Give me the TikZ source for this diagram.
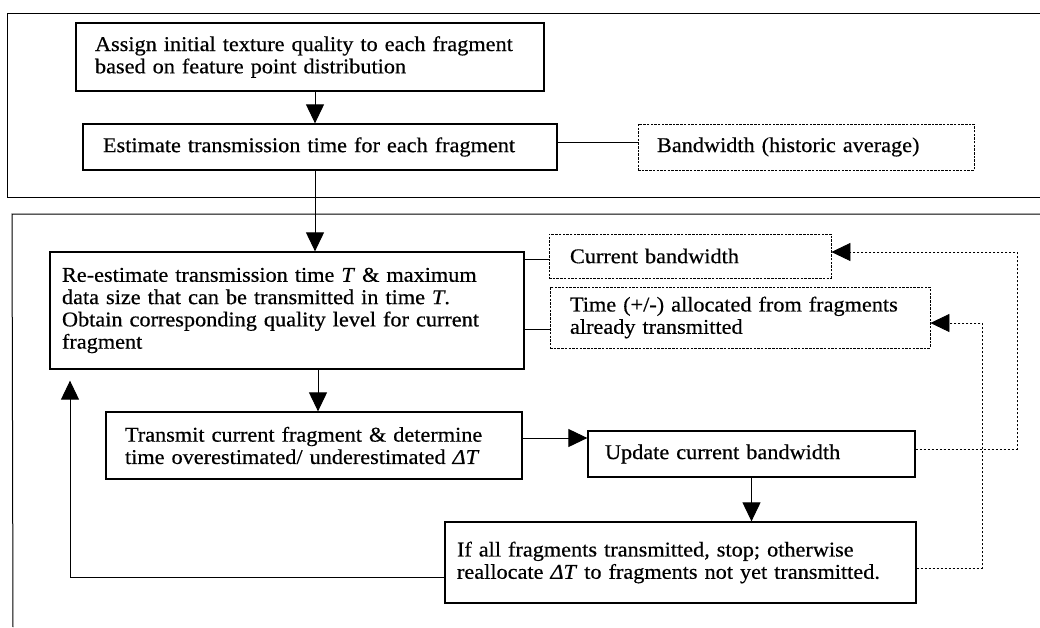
\documentclass[tikz,border=0pt]{standalone}
\usepackage{fontspec}
\setmainfont[FakeStretch=1.06,FakeBold=0.5]{Liberation Serif}
\usetikzlibrary{arrows.meta}
\begin{document}
\begin{tikzpicture}[x=1pt,y=-1pt,
  every node/.style={font=\fontsize{21}{22.3}\selectfont},
  box/.style={draw, line width=1.3pt, align=left, inner ysep=0pt},
  dbox/.style={draw, line width=0.8pt, dash pattern=on 2.5pt off 1.2pt, align=left, inner ysep=0pt},
  frame/.style={line width=1pt},
  link/.style={line width=1pt},
  dlink/.style={line width=0.8pt, dash pattern=on 2.5pt off 1.5pt},
  arr/.style={-{Triangle[length=19pt,width=18pt]}}
]
\useasboundingbox (0,0) rectangle (1040,627);
% frames
\draw[frame] (1040,13) -- (7,13) -- (7,197) -- (1040,197);
\draw[frame] (1040,214) -- (12,214) -- (13,627);
% nodes
\node[box, minimum width=468pt, minimum height=68pt, text width=430pt, inner xsep=19pt] (A) at (310,57)
  {Assign initial texture quality to each fragment\\based on feature point distribution};
\node[box, minimum width=474pt, minimum height=46pt, text width=434pt, inner xsep=20pt] (B) at (320,147)
  {Estimate transmission time for each fragment};
\node[dbox, minimum width=336pt, minimum height=46pt, text width=298pt, inner xsep=19pt] (BW) at (806,147)
  {Bandwidth (historic average)};
\node[box, minimum width=474pt, minimum height=117pt, text width=450pt, inner xsep=12pt] (C) at (287,310.5)
  {Re-estimate transmission time \textit{T} \& maximum\\data size that can be transmitted in time \textit{T}.\\Obtain corresponding quality level for current\\fragment};
\node[dbox, minimum width=282pt, minimum height=44pt, text width=240pt, inner xsep=21pt] (CB) at (690,256)
  {Current bandwidth};
\node[dbox, minimum width=380pt, minimum height=61pt, text width=340pt, inner xsep=20pt] (TM) at (740,317.5)
  {Time (+/-) allocated from fragments\\already transmitted};
\node[box, minimum width=416pt, minimum height=67pt, text width=378pt, inner xsep=19pt] (D) at (314,445.5)
  {Transmit current fragment \& determine\\time overestimated/ underestimated \textit{ΔT}};
\node[box, minimum width=327pt, minimum height=46pt, text width=293pt, inner xsep=17pt] (U) at (751.5,454)
  {Update current bandwidth};
\node[box, minimum width=471pt, minimum height=81pt, text width=447pt, inner xsep=12pt] (E) at (680.5,562.5)
  {If all fragments transmitted, stop; otherwise\\reallocate \textit{ΔT} to fragments not yet transmitted.};
% helper coordinates
\coordinate (c1) at (315,0);
\coordinate (c2) at (318,0);
\coordinate (rB) at (0,142);
\coordinate (rCB) at (0,259);
\coordinate (rTM) at (0,329);
\coordinate (rD) at (0,438);
\coordinate (rU) at (0,449);
\coordinate (rCBin) at (0,252);
\coordinate (rE) at (0,568);
\coordinate (rTMin) at (0,323);
\coordinate (rL) at (0,577);
\coordinate (vx1) at (1017,0);
\coordinate (vx2) at (982,0);
\coordinate (lx) at (70,0);
% connectors
\draw[link,arr] (A.south -| c1) -- (B.north -| c1);
\draw[link,arr] (B.south -| c1) -- (C.north -| c1);
\draw[link,arr] (C.south -| c2) -- (D.north -| c2);
\draw[link,arr] (D.east |- rD) -- (U.west |- rD);
\draw[link,arr] (U.south) -- (E.north -| U.south);
\draw[link] (B.east |- rB) -- (BW.west |- rB);
\draw[link] (C.east |- rCB) -- (CB.west |- rCB);
\draw[link] (C.east |- rTM) -- (TM.west |- rTM);
\draw[dlink,arr] (U.east |- rU) -- (vx1 |- rU) -- (vx1 |- rCBin) -- (CB.east |- rCBin);
\draw[dlink,arr] (E.east |- rE) -- (vx2 |- rE) -- (vx2 |- rTMin) -- (TM.east |- rTMin);
\draw[link,arr,shorten >=11pt] (E.west |- rL) -- (lx |- rL) -- (C.south -| lx);
\end{tikzpicture}
\end{document}
